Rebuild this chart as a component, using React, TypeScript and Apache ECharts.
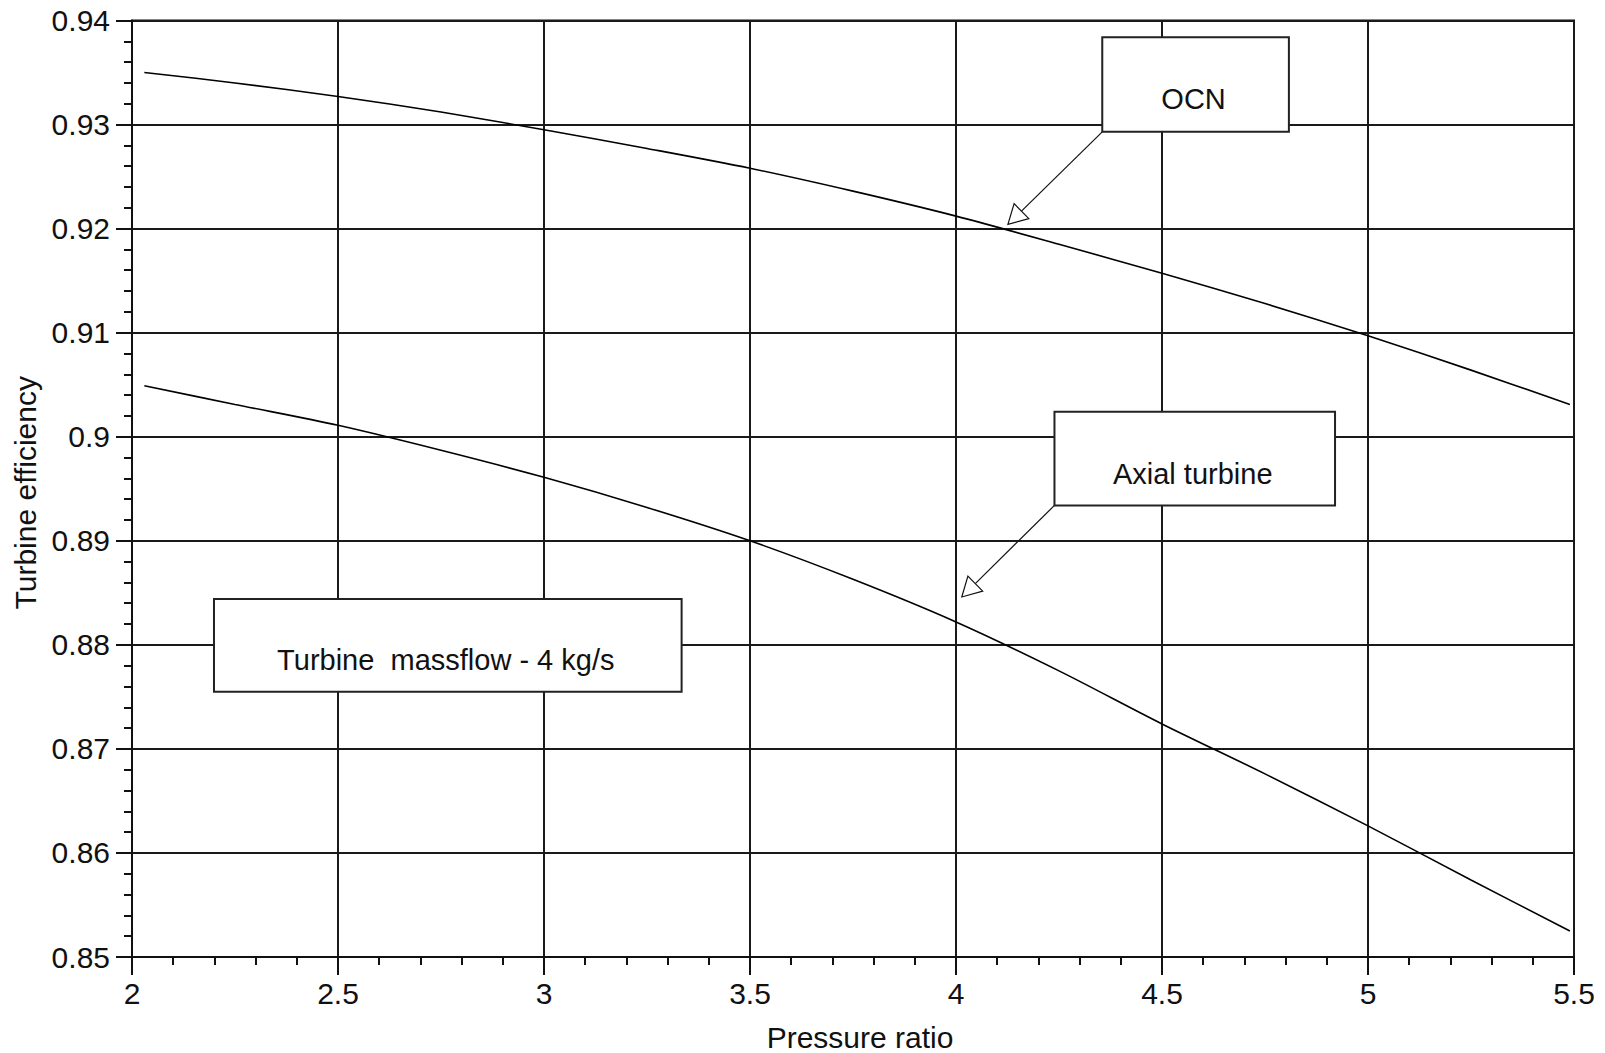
import React, { useEffect, useRef } from "react";
import * as echarts from "echarts";

// Pressure ratio samples along both curves
const pressureRatio = [2.03, 2.25, 2.5, 2.75, 3, 3.25, 3.5, 3.75, 4, 4.25, 4.5, 4.75, 5, 5.25, 5.49];
// Turbine efficiency, OCN design
const ocnEfficiency = [0.935, 0.934, 0.9327, 0.9312, 0.9295, 0.9277, 0.9258, 0.9236, 0.9212, 0.9185, 0.9157, 0.9128, 0.9097, 0.9064, 0.9031];
// Turbine efficiency, axial design
const axialEfficiency = [0.9049, 0.9031, 0.9011, 0.8987, 0.8961, 0.8932, 0.89, 0.8863, 0.8822, 0.8775, 0.8724, 0.8676, 0.8626, 0.8574, 0.8525];

const xAxisTitle = "Pressure ratio";
const yAxisTitle = "Turbine efficiency";
const calloutTexts = ["OCN", "Axial turbine", "Turbine  massflow - 4 kg/s"];

// Callout boxes in data coordinates: [xLeft, yTop, xRight, yBottom], optional arrow tip
const calloutBoxes: { box: number[]; tip?: number[] }[] = [
  { box: [4.355, 0.9384, 4.808, 0.9293], tip: [4.126, 0.9204] },
  { box: [4.239, 0.9024, 4.92, 0.8934], tip: [4.014, 0.8846] },
  { box: [2.199, 0.8844, 3.334, 0.8755] },
];

const FONT = "'Liberation Sans', Arial, Helvetica, sans-serif";

export default function App() {
  const ref = useRef<HTMLDivElement>(null);

  useEffect(() => {
    if (!ref.current) return;
    const chart = echarts.init(ref.current, undefined, { renderer: "svg" });

    const axisColor = "#111";
    chart.setOption({
      animation: false,
      backgroundColor: "#fff",
      grid: {
        left: 132,
        right: 31,
        top: 20.5,
        bottom: 96,
        outerBoundsMode: "none",
        containLabel: false,
        show: true,
        borderColor: axisColor,
        borderWidth: 2,
        backgroundColor: "transparent",
      },
      xAxis: {
        type: "value",
        min: 2,
        max: 5.5,
        interval: 0.5,
        name: xAxisTitle,
        nameLocation: "middle",
        nameGap: 65,
        nameTextStyle: {
          fontFamily: FONT,
          fontSize: 30,
          lineHeight: 30,
          color: "#111",
          padding: [0, 0, 0, 14],
        },
        axisLine: { show: true, lineStyle: { color: axisColor, width: 2 } },
        axisTick: { show: true, length: 18, lineStyle: { color: axisColor, width: 2 } },
        minorTick: { show: true, splitNumber: 5, length: 8, lineStyle: { color: axisColor, width: 2 } },
        axisLabel: { fontFamily: FONT, fontSize: 30, color: "#111", margin: 21 },
        splitLine: { show: true, lineStyle: { color: "#1a1a1a", width: 2 } },
      },
      yAxis: {
        type: "value",
        min: 0.85,
        max: 0.94,
        interval: 0.01,
        name: yAxisTitle,
        nameLocation: "middle",
        nameGap: 92,
        nameTextStyle: { fontFamily: FONT, fontSize: 30, color: "#111", padding: [0, 8, 0, 0] },
        axisLine: { show: true, lineStyle: { color: axisColor, width: 2 } },
        axisTick: { show: true, length: 16, lineStyle: { color: axisColor, width: 2 } },
        minorTick: { show: true, splitNumber: 5, length: 8, lineStyle: { color: axisColor, width: 2 } },
        axisLabel: { fontFamily: FONT, fontSize: 30, color: "#111", margin: 22 },
        splitLine: { show: true, lineStyle: { color: "#1a1a1a", width: 2 } },
      },
      series: [
        {
          name: "OCN",
          type: "line",
          data: pressureRatio.map((p, i) => [p, ocnEfficiency[i]]),
          showSymbol: false,
          smooth: 0.3,
          lineStyle: { color: "#000", width: 1.6 },
          z: 3,
        },
        {
          name: "Axial turbine",
          type: "line",
          data: pressureRatio.map((p, i) => [p, axialEfficiency[i]]),
          showSymbol: false,
          smooth: 0.3,
          lineStyle: { color: "#000", width: 1.6 },
          z: 3,
        },
      ],
    });

    // Callout boxes with hollow-arrow leaders, placed through the grid's own scales
    const toPx = (x: number, y: number) =>
      chart.convertToPixel({ gridIndex: 0 }, [x, y]) as number[];
    const elements: any[] = [];
    calloutBoxes.forEach((c, i) => {
      const [x0, y0] = toPx(c.box[0], c.box[1]);
      const [x1, y1] = toPx(c.box[2], c.box[3]);
      if (c.tip) {
        const [tx, ty] = toPx(c.tip[0], c.tip[1]);
        const dx = tx - x0;
        const dy = ty - y1;
        const len = Math.hypot(dx, dy);
        const ux = dx / len;
        const uy = dy / len;
        const headLen = 19;
        const halfW = 10.5;
        const bx = tx - ux * headLen;
        const by = ty - uy * headLen;
        elements.push({
          type: "line",
          z: 20,
          shape: { x1: x0, y1: y1, x2: bx, y2: by },
          style: { stroke: "#111", lineWidth: 1.2 },
        });
        elements.push({
          type: "polygon",
          z: 21,
          shape: {
            points: [
              [tx, ty],
              [bx - uy * halfW, by + ux * halfW],
              [bx + uy * halfW, by - ux * halfW],
            ],
          },
          style: { fill: "#fff", stroke: "#111", lineWidth: 1.2 },
        });
      }
      elements.push({
        type: "rect",
        z: 20,
        shape: { x: x0, y: y0, width: x1 - x0, height: y1 - y0 },
        style: { fill: "#fff", stroke: "#222", lineWidth: 2 },
      });
      elements.push({
        type: "text",
        z: 22,
        x: (x0 + x1) / 2 - 2,
        y: (y0 + y1) / 2 + 15,
        style: {
          text: calloutTexts[i],
          fontFamily: FONT,
          fontSize: 29,
          fill: "#111",
          align: "center",
          verticalAlign: "middle",
        },
      });
    });
    chart.setOption({ graphic: { elements } });

    return () => chart.dispose();
  }, []);

  return (
    <div
      ref={ref}
      style={{ position: "fixed", left: 0, top: 0, width: 1605, height: 1053, background: "#fff" }}
    />
  );
}
